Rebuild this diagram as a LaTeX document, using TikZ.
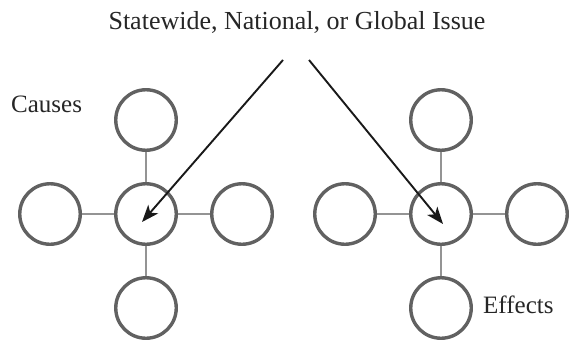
\documentclass[tikz,border=0pt]{standalone}
\usepackage{fontspec}
\setmainfont{Liberation Serif}
\usetikzlibrary{arrows.meta}
\begin{document}
\begin{tikzpicture}[x=1pt,y=-1pt,
  ring/.style={circle,draw=black!62,line width=3.4pt,minimum size=60.5pt,inner sep=0pt,fill=white},
  link/.style={draw=black!42,line width=1.8pt},
  pointer/.style={draw=black!90,line width=1.9pt,-{Stealth[length=17pt,width=13pt,inset=4.5pt]}},
  lbl/.style={font=\fontsize{25}{28}\selectfont,text=black!85,inner sep=0pt}]
\useasboundingbox (0,0) rectangle (588,345);
% left cluster
\node[ring] (lc) at (146,214) {};
\node[ring] (ll) at (50,214) {};
\node[ring] (lr) at (242,214) {};
\node[ring] (lt) at (146,120) {};
\node[ring] (lb) at (146,308) {};
% right cluster
\node[ring] (rc) at (441,214) {};
\node[ring] (rl) at (345,214) {};
\node[ring] (rr) at (537,214) {};
\node[ring] (rt) at (441,120) {};
\node[ring] (rb) at (441,308) {};
\foreach \c/\o in {lc/ll,lc/lr,lc/lt,lc/lb,rc/rl,rc/rr,rc/rt,rc/rb}
  \draw[link] (\c) -- (\o);
% labels
\node[lbl,font=\fontsize{26}{29}\selectfont] (title) at (297,22) {Statewide, National, or Global Issue};
\node[lbl,anchor=west] (causes) at (11,104) {Causes};
\node[lbl,anchor=west] (effects) at (483,305) {Effects};
% arrows
\coordinate (s1) at (283,60);
\coordinate (t1) at (142,222);
\coordinate (s2) at (309,60);
\coordinate (t2) at (443,224);
\draw[pointer] (s1) -- (t1);
\draw[pointer] (s2) -- (t2);
\end{tikzpicture}
\end{document}
